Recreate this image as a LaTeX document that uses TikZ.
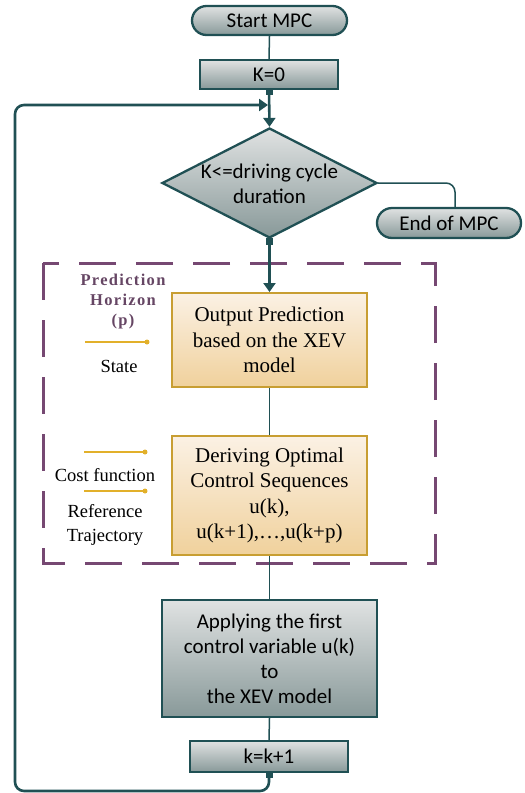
\documentclass[tikz,border=0pt]{standalone}
\usepackage{fontspec}
\setmainfont{Liberation Serif}
\newfontfamily\calfont{Carlito}
\usetikzlibrary{shapes.geometric,arrows.meta}
\definecolor{tealc}{RGB}{32,80,84}
\definecolor{gtop}{RGB}{224,226,226}
\definecolor{gbot}{RGB}{136,153,153}
\definecolor{otop}{RGB}{251,241,228}
\definecolor{obot}{RGB}{240,209,156}
\definecolor{oborder}{RGB}{200,158,50}
\definecolor{purp}{RGB}{118,72,114}
\definecolor{ptext}{RGB}{102,70,100}
\definecolor{yel}{RGB}{226,176,42}
\begin{document}
\begin{tikzpicture}[x=1pt,y=-1pt,
  grayb/.style={draw=tealc, line width=2.3pt, top color=gtop, bottom color=gbot,
    font=\calfont\fontsize{21}{25}\selectfont, align=center, inner sep=0pt},
  orab/.style={draw=oborder, line width=2pt, top color=otop, bottom color=obot,
    font=\fontsize{21}{25.5}\selectfont, align=center, inner sep=0pt,
    minimum width=195pt},
  thin/.style={draw=tealc, line width=1.5pt},
  thick/.style={draw=tealc, line width=2.6pt},
  tip/.style={-{Triangle[length=9pt,width=12pt]}},
  marker/.style={fill=tealc, minimum size=7pt, inner sep=0pt},
  lbl/.style={font=\fontsize{18.5}{24}\selectfont, align=center, inner sep=0pt},
  yline/.style={draw=yel, line width=2pt},
  ydot/.style={fill=yel, circle, minimum size=5pt, inner sep=0pt}
]
\useasboundingbox (0,0) rectangle (525,793);
% nodes
\node[grayb, rounded corners=14.5pt, minimum width=155pt, minimum height=29pt] (start) at (269.5,20.5) {Start MPC};
\node[grayb, minimum width=138pt, minimum height=29pt] (k0) at (269,74.5) {K=0};
\node[grayb, shape=diamond, minimum width=215pt, minimum height=110pt] (dec) at (269.5,183) {};
\node[font=\calfont\fontsize{21}{25}\selectfont, align=center, inner sep=0pt] (dectext) at (269.5,184) {K<=driving cycle\\duration};
\node[grayb, rounded corners=15pt, minimum width=144pt, minimum height=30pt] (endm) at (449,223) {End of MPC};
\node[orab, minimum height=94pt] (outp) at (269.5,340) {Output Prediction\\based on the XEV\\model};
\node[orab, minimum height=119pt] (deriv) at (269.5,495.5) {Deriving Optimal\\Control Sequences\\u(k),\\u(k+1),\ldots,u(k+p)};
\node[grayb, minimum width=215pt, minimum height=117pt] (apply) at (269.5,658.5) {Applying the first\\control variable u(k)\\to\\the XEV model};
\node[grayb, minimum width=158pt, minimum height=31pt] (kinc) at (269,756.5) {k=k+1};
% dashed horizon box
\draw[purp, line width=3pt, dash pattern=on 37pt off 20pt] (43,263) rectangle (435,563);
% left labels
\node[font=\bfseries\addfontfeature{LetterSpace=8}\fontsize{16.5}{20}\selectfont, text=ptext, align=center, inner sep=0pt] (ph) at (123,302) {Prediction\\Horizon\\(p)};
\coordinate (s1a) at (85,342);
\coordinate (s1b) at (147,342);
\draw[yline] (s1a) -- (s1b);
\node[ydot] (d1) at (s1b) {};
\node[lbl] (state) at (119,366) {State};
\coordinate (s2a) at (84,452);
\coordinate (s2b) at (145,452);
\draw[yline] (s2a) -- (s2b);
\node[ydot] (d2) at (s2b) {};
\node[lbl] (cost) at (105,475) {Cost function};
\coordinate (s3a) at (84,491);
\coordinate (s3b) at (145,491);
\draw[yline] (s3a) -- (s3b);
\node[ydot] (d3) at (s3b) {};
\node[lbl] (ref) at (105,525) {Reference\\Trajectory};
% connectors
\draw[thin] (start.south) -- (k0.north);
\coordinate (merge) at (268,105);
\draw[thick, tip] (k0.south) -- (dec.north);
\draw[thick, tip, rounded corners=9pt] (kinc.south) -- (269,791) -- (15,791) -- (15,105) -- (merge);
\draw[thin, rounded corners=9pt] (dec.east) -- (455,183) -- (455,208);
\draw[thick, tip] (dec.south) -- (outp.north);
\draw[thin] (outp.south) -- (deriv.north);
\draw[thin] (deriv.south) -- (apply.north);
\draw[thin] (apply.south) -- (kinc.north);
\node[marker] (m1) at ([yshift=-1pt]k0.south) {};
\node[marker] (m2) at ([yshift=-2pt]dec.south) {};
\node[marker] (m3) at ([yshift=-1pt]kinc.south) {};
\end{tikzpicture}
\end{document}
